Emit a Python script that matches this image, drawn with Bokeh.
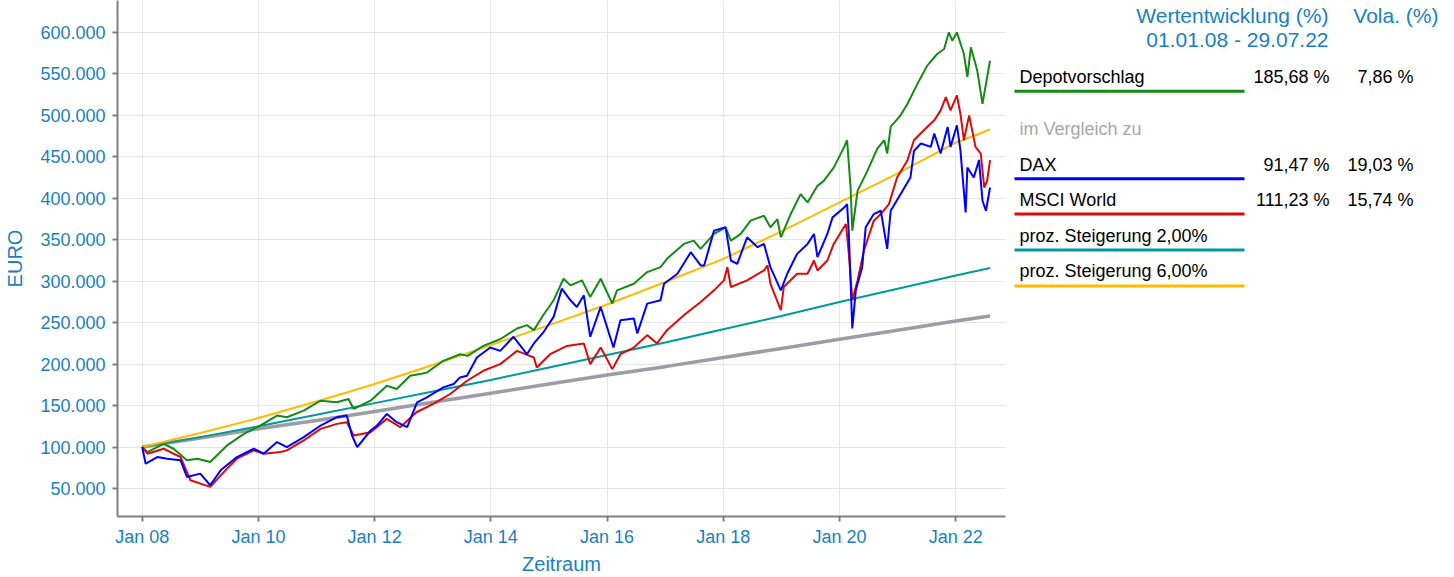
from bokeh.plotting import figure
from bokeh.models import FixedTicker, Range1d
from bokeh.layouts import row
from bokeh.core.properties import value
from bokeh.embed import file_html
from bokeh.resources import INLINE

# ---------------- data (time in decimal years, values in thousand EUR) ----------------
depot_t = [2008.00, 2008.09, 2008.37, 2008.54, 2008.77, 2008.95, 2009.17, 2009.46, 2009.75,
           2010.03, 2010.32, 2010.49, 2010.78, 2011.07, 2011.35, 2011.55, 2011.64, 2011.93,
           2012.21, 2012.38, 2012.61, 2012.78, 2012.90, 2013.18, 2013.47, 2013.60, 2013.87,
           2014.16, 2014.45, 2014.62, 2014.74, 2014.90, 2015.08, 2015.25, 2015.37, 2015.57,
           2015.71, 2015.89, 2016.09, 2016.17, 2016.46, 2016.69, 2016.92, 2017.03, 2017.32,
           2017.49, 2017.61, 2017.84, 2018.04, 2018.13, 2018.30, 2018.47, 2018.70, 2018.81,
           2018.93, 2018.99, 2019.16, 2019.33, 2019.45, 2019.62, 2019.73, 2019.90, 2020.08,
           2020.13, 2020.19, 2020.22, 2020.31, 2020.48, 2020.65, 2020.77, 2020.82, 2020.88,
           2021.05, 2021.17, 2021.34, 2021.51, 2021.68, 2021.80, 2021.88, 2021.94, 2022.02,
           2022.14, 2022.20, 2022.26, 2022.37, 2022.46, 2022.52, 2022.59]
depot_v = [100, 94, 104, 98, 84, 86, 82, 102, 116,
           126, 138, 136, 144, 156, 154, 158, 146, 156,
           174, 170, 186, 188, 190, 204, 212, 210, 222,
           230, 243, 247, 241, 259, 277, 303, 295, 301,
           281, 303, 273, 289, 297, 311, 317, 327, 345,
           349, 339, 357, 365, 349, 357, 373, 379, 365,
           375, 353, 381, 405, 395, 415, 421, 437, 462,
           470, 413, 361, 409, 433, 460, 470, 454, 486,
           500, 514, 538, 560, 574, 580, 600, 590, 600,
           574, 546, 582, 554, 514, 538, 566]

dax_t = [2008.00, 2008.06, 2008.26, 2008.43, 2008.66, 2008.77, 2009.00, 2009.17, 2009.35,
         2009.63, 2009.92, 2010.09, 2010.32, 2010.49, 2010.78, 2011.07, 2011.35, 2011.52,
         2011.61, 2011.70, 2011.93, 2012.04, 2012.21, 2012.38, 2012.56, 2012.73, 2012.90,
         2013.18, 2013.36, 2013.47, 2013.59, 2013.76, 2013.99, 2014.16, 2014.39, 2014.62,
         2014.74, 2014.91, 2015.08, 2015.22, 2015.37, 2015.48, 2015.60, 2015.71, 2015.89,
         2016.11, 2016.23, 2016.46, 2016.52, 2016.69, 2016.92, 2016.98, 2017.21, 2017.44,
         2017.61, 2017.67, 2017.84, 2018.04, 2018.13, 2018.24, 2018.41, 2018.59, 2018.70,
         2018.81, 2018.99, 2019.10, 2019.27, 2019.45, 2019.56, 2019.62, 2019.79, 2019.88,
         2020.08, 2020.13, 2020.16, 2020.22, 2020.28, 2020.39, 2020.45, 2020.59, 2020.71,
         2020.82, 2020.88, 2021.05, 2021.22, 2021.28, 2021.40, 2021.57, 2021.63, 2021.74,
         2021.86, 2021.91, 2022.02, 2022.08, 2022.17, 2022.20, 2022.31, 2022.40, 2022.46,
         2022.52, 2022.59]
dax_v = [100, 80, 88, 86, 84, 64, 68, 54, 72,
         88, 98, 92, 106, 100, 112, 126, 136, 138,
         114, 100, 120, 126, 140, 130, 124, 154, 160,
         172, 176, 184, 186, 208, 220, 216, 233, 212,
         225, 239, 257, 291, 277, 269, 283, 233, 269,
         220, 253, 255, 237, 273, 277, 297, 309, 335,
         319, 319, 361, 365, 325, 321, 353, 341, 345,
         317, 289, 309, 333, 345, 357, 329, 357, 377,
         389, 393, 357, 243, 289, 317, 365, 381, 385,
         339, 385, 405, 425, 457, 466, 462, 478, 454,
         486, 462, 488, 458, 383, 437, 425, 446, 397,
         385, 413]

msci_t = [2008.00, 2008.09, 2008.37, 2008.66, 2008.83, 2009.17, 2009.46, 2009.63, 2009.92,
          2010.09, 2010.38, 2010.49, 2010.78, 2011.07, 2011.35, 2011.52, 2011.64, 2011.93,
          2012.21, 2012.44, 2012.72, 2013.01, 2013.30, 2013.59, 2013.87, 2014.16, 2014.45,
          2014.74, 2014.79, 2015.02, 2015.31, 2015.60, 2015.71, 2015.89, 2016.09, 2016.23,
          2016.46, 2016.69, 2016.86, 2017.03, 2017.32, 2017.61, 2017.84, 2018.01, 2018.07,
          2018.13, 2018.41, 2018.70, 2018.76, 2018.81, 2018.99, 2019.04, 2019.27, 2019.45,
          2019.56, 2019.62, 2019.79, 2019.90, 2020.11, 2020.16, 2020.22, 2020.31, 2020.42,
          2020.59, 2020.71, 2020.85, 2020.99, 2021.17, 2021.28, 2021.45, 2021.63, 2021.74,
          2021.83, 2021.91, 2022.02, 2022.08, 2022.14, 2022.23, 2022.34, 2022.43, 2022.49,
          2022.54, 2022.59]
msci_v = [100, 92, 98, 88, 60, 52, 74, 86, 96,
          92, 94, 96, 108, 122, 128, 130, 114, 118,
          134, 124, 142, 152, 164, 180, 192, 200, 216,
          208, 196, 212, 222, 225, 200, 220, 194, 212,
          220, 235, 225, 241, 259, 275, 289, 301, 317,
          293, 301, 313, 319, 297, 265, 293, 309, 309,
          325, 313, 325, 345, 369, 333, 277, 301, 337,
          373, 381, 393, 425, 446, 470, 482, 494, 506,
          522, 506, 524, 502, 470, 500, 462, 454, 413,
          421, 446]

trend_t = [2008, 2009, 2010, 2011, 2012, 2013, 2014, 2015, 2016, 2017, 2018, 2019, 2020,
           2021, 2022, 2022.59]
grey_v = [100, 111, 122, 132, 143, 154, 165, 176, 187, 197, 208, 219, 230, 241, 252, 258]
steig2_v = [100, 112, 125, 139, 153, 167, 181, 196, 211, 226, 242, 258, 275, 291, 307, 316]
steig6_v = [100, 117, 135, 155, 176, 199, 223, 247, 272, 299, 327, 360, 395, 430, 467, 483]

y_ticks = [50, 100, 150, 200, 250, 300, 350, 400, 450, 500, 550, 600]
y_labels = ["50.000", "100.000", "150.000", "200.000", "250.000", "300.000", "350.000",
            "400.000", "450.000", "500.000", "550.000", "600.000"]
x_ticks = [2008, 2010, 2012, 2014, 2016, 2018, 2020, 2022]
x_labels = ["Jan 08", "Jan 10", "Jan 12", "Jan 14", "Jan 16", "Jan 18", "Jan 20", "Jan 22"]

legend_names = ["Depotvorschlag", "DAX", "MSCI World", "proz. Steigerung 2,00%",
                "proz. Steigerung 6,00%"]
legend_returns = ["185,68 %", "91,47 %", "111,23 %", "", ""]
legend_volas = ["7,86 %", "19,03 %", "15,74 %", "", ""]

# ---------------- styles ----------------
C_GREEN = "#158a15"
C_BLUE = "#0000ff"
C_RED = "#dc0a0a"
C_TEAL = "#009a9a"
C_ORANGE = "#ffbb00"
C_GREY = "#9c9ca6"
C_TXT = "#1a7fc1"
FONT = "Liberation Sans"
legend_colors = [C_GREEN, C_BLUE, C_RED, C_TEAL, C_ORANGE]

H = 577
TOP = 0        # frame top (px)
BOTTOM = 60    # space below frame (px)

p = figure(width=1008, height=H, output_backend="svg", toolbar_location=None,
           x_range=Range1d(2007.575, 2022.856), y_range=Range1d(16.3, 638.5),
           min_border_left=117, min_border_right=3, min_border_top=TOP,
           min_border_bottom=BOTTOM)
p.outline_line_color = None
p.background_fill_color = "white"

p.line(trend_t, grey_v, line_color=C_GREY, line_width=3.5)
p.line(trend_t, steig2_v, line_color=C_TEAL, line_width=2)
p.line(trend_t, steig6_v, line_color=C_ORANGE, line_width=2)
p.line(depot_t, depot_v, line_color=C_GREEN, line_width=2)
p.line(msci_t, msci_v, line_color=C_RED, line_width=2)
p.line(dax_t, dax_v, line_color=C_BLUE, line_width=2)

p.xaxis.ticker = FixedTicker(ticks=x_ticks)
p.xaxis.major_label_overrides = {t: l for t, l in zip(x_ticks, x_labels)}
p.yaxis.ticker = FixedTicker(ticks=y_ticks)
p.yaxis.major_label_overrides = {t: l for t, l in zip(y_ticks, y_labels)}
p.xgrid.ticker = FixedTicker(ticks=x_ticks)
p.ygrid.ticker = FixedTicker(ticks=y_ticks)
p.grid.grid_line_color = "#e6e6e6"
p.grid.grid_line_width = 1

for ax in (p.xaxis[0], p.yaxis[0]):
    ax.axis_line_color = "#808080"
    ax.axis_line_width = 2
    ax.major_tick_line_color = "#808080"
    ax.major_tick_line_width = 2
    ax.major_tick_out = 5
    ax.major_tick_in = 0
    ax.minor_tick_line_color = None
    ax.major_label_text_color = C_TXT
    ax.major_label_text_font = FONT
    ax.major_label_text_font_size = "18px"
    ax.axis_label_text_color = C_TXT
    ax.axis_label_text_font = FONT
    ax.axis_label_text_font_style = "normal"
    ax.axis_label_text_font_size = "20px"

p.yaxis.axis_label = "EURO"
p.yaxis.major_label_standoff = 7
p.yaxis.axis_label_standoff = 11
p.xaxis.axis_label = "Zeitraum"
p.xaxis.major_label_standoff = 5
p.xaxis.axis_label_standoff = 3

# ---------------- legend panel (coordinates in page pixels) ----------------
lg = figure(width=440, height=H, output_backend="svg", toolbar_location=None,
            x_range=Range1d(1008, 1448), y_range=Range1d(H - BOTTOM, TOP),
            min_border_left=0, min_border_right=0, min_border_top=TOP,
            min_border_bottom=BOTTOM)
lg.axis.visible = False
lg.grid.visible = False
lg.outline_line_color = None

row_mid = [76.5, 164.5, 199.5, 235.5, 271]
row_line = [91, 178.5, 214, 250, 286]

lg.text(x=[1328, 1328, 1438], y=[15.5, 39.5, 15.5],
        text=["Wertentwicklung (%)", "01.01.08 - 29.07.22", "Vola. (%)"],
        text_align="right", text_baseline="middle", text_color=C_TXT,
        text_font=value(FONT), text_font_size="21px")
lg.text(x=[1019] * 5, y=row_mid, text=legend_names, text_align="left",
        text_baseline="middle", text_color="#000000",
        text_font=value(FONT), text_font_size="18px")
lg.text(x=[1329] * 5, y=row_mid, text=legend_returns, text_align="right",
        text_baseline="middle", text_color="#000000",
        text_font=value(FONT), text_font_size="18px")
lg.text(x=[1413] * 5, y=row_mid, text=legend_volas, text_align="right",
        text_baseline="middle", text_color="#000000",
        text_font=value(FONT), text_font_size="18px")
lg.text(x=[1019], y=[128.5], text=["im Vergleich zu"], text_align="left",
        text_baseline="middle", text_color="#a6a6ae",
        text_font=value(FONT), text_font_size="18px")
lg.segment(x0=[1014] * 5, x1=[1244] * 5, y0=row_line, y1=row_line,
           line_color=legend_colors, line_width=3)

layout = row(p, lg, spacing=0)
open("out.html", "w").write(file_html(layout, INLINE))
